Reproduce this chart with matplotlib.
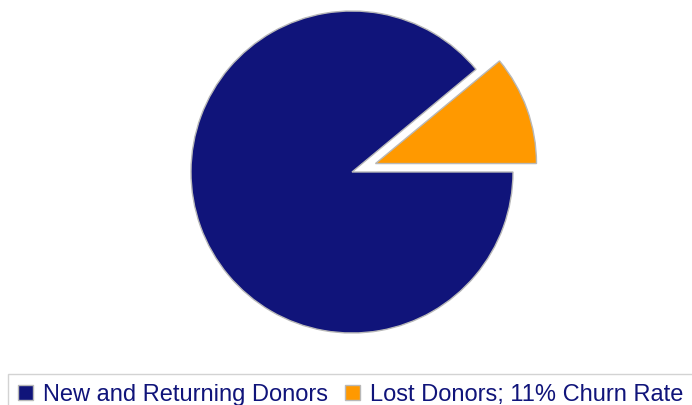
import matplotlib.pyplot as plt
from matplotlib import font_manager

labels = ["New and Returning Donors", "Lost Donors; 11% Churn Rate"]
shares = [89, 11]
colors = ["#10147A", "#FF9900"]
explode = [0, 0.155]

# narrow face for the legend if present, otherwise regular at smaller size
names = {f.name for f in font_manager.fontManager.ttflist}
if 'Liberation Sans Narrow' in names:
    leg_family, leg_size = 'Liberation Sans Narrow', 20.7
else:
    leg_family, leg_size = 'Liberation Sans', 17.0
plt.rcParams['font.family'] = [leg_family, 'DejaVu Sans']

fig = plt.figure(figsize=(6.92, 4.05), dpi=100)

# pie centre at (352,172) px, radius 161 px
cx, cy, r = 352, 172, 161
W, H = 692, 405
ax = fig.add_axes([(cx - r) / W, (H - cy - r) / H, 2 * r / W, 2 * r / H])
wedges, _ = ax.pie(shares[::-1], colors=colors[::-1], explode=explode[::-1],
                   startangle=0, counterclock=True, radius=1,
                   wedgeprops=dict(edgecolor="#B8B8B8", linewidth=1.0))
for w in wedges:
    w.set_clip_on(False)
ax.set_xlim(-1, 1)
ax.set_ylim(-1, 1)
ax.set_aspect('equal')
ax.axis('off')

em = leg_size * 100 / 72
leg = fig.legend(wedges[::-1], labels, loc='upper left', ncol=2,
                 bbox_to_anchor=(8 / W, 1 - 374 / H), frameon=True, fancybox=False,
                 fontsize=leg_size, handlelength=15 / em, handleheight=15 / em,
                 handletextpad=10 / em, columnspacing=17 / em,
                 borderpad=10 / em, borderaxespad=0)
leg.get_frame().set_edgecolor("#C8C8C8")
leg.get_frame().set_linewidth(1.0)
for t in leg.get_texts():
    t.set_color("#10147A")

fig.savefig("out.png", dpi=100)
